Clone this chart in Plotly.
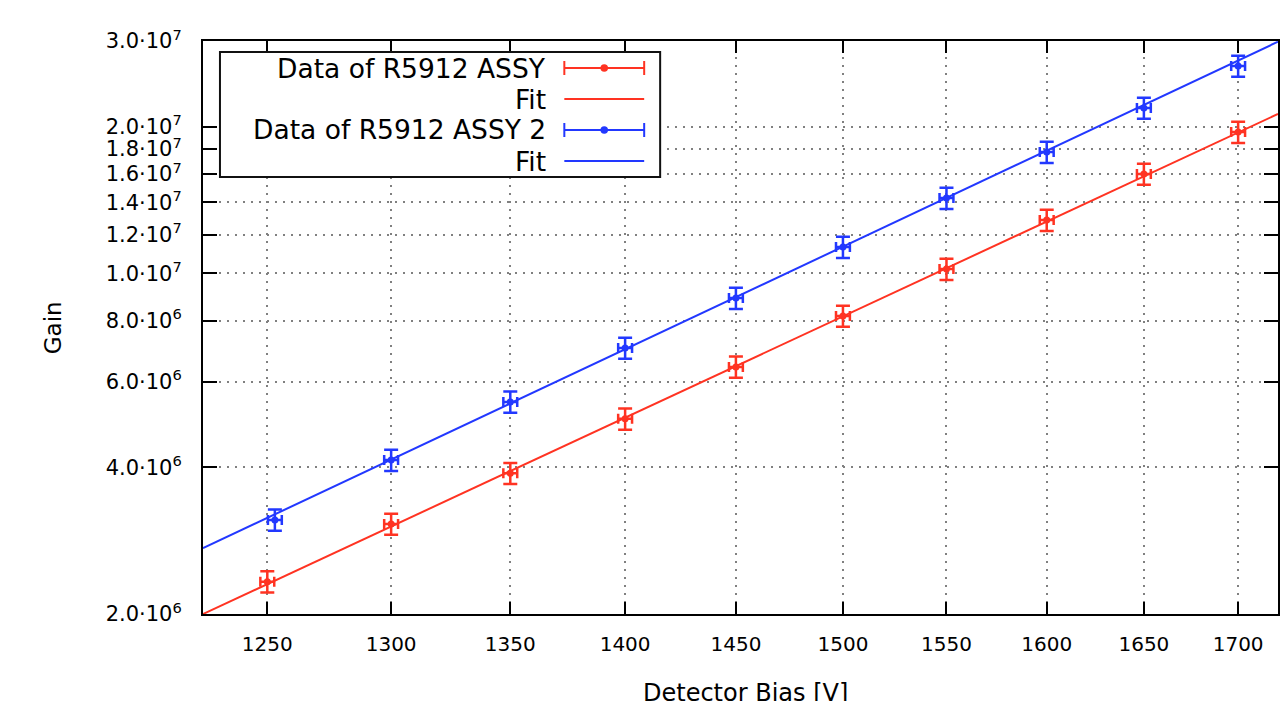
import math
import plotly.graph_objects as go

# ---------------- data ----------------
bias_red = [1250, 1300, 1350, 1400, 1450, 1500, 1550, 1600, 1650, 1700]
gain_red = [2.33e6, 3.06e6, 3.89e6, 5.03e6, 6.43e6, 8.18e6, 1.021e7, 1.287e7, 1.600e7, 1.951e7]

bias_blue = [1253, 1300, 1350, 1400, 1450, 1500, 1550, 1600, 1650, 1700]
gain_blue = [3.12e6, 4.14e6, 5.45e6, 7.03e6, 8.90e6, 1.133e7, 1.428e7, 1.775e7, 2.186e7, 2.666e7]

fit_bias = [1224.8, 1721.6]
fit_red = [2.0e6, 2.125e7]
fit_blue = [2.73e6, 2.99e7]

gain_err_pct = 5.0
bias_err_pct = 0.22

x_ticks = [1250, 1300, 1350, 1400, 1450, 1500, 1550, 1600, 1650, 1700]
x_tick_labels = [str(v) for v in x_ticks]
y_ticks = [2e6, 4e6, 6e6, 8e6, 1e7, 1.2e7, 1.4e7, 1.6e7, 1.8e7, 2e7, 3e7]
y_tick_labels = ["2.0·10<sup>6</sup>", "4.0·10<sup>6</sup>", "6.0·10<sup>6</sup>", "8.0·10<sup>6</sup>",
                 "1.0·10<sup>7</sup>", "1.2·10<sup>7</sup>", "1.4·10<sup>7</sup>", "1.6·10<sup>7</sup>",
                 "1.8·10<sup>7</sup>", "2.0·10<sup>7</sup>", "3.0·10<sup>7</sup>"]

legend_labels = ["Data of R5912 ASSY", "Fit", "Data of R5912 ASSY 2", "Fit"]

RED = "#ff3322"
BLUE = "#2238ff"
FONT = "DejaVu Sans"

# ---------------- geometry ----------------
W, H = 1280, 701
L, R, T, B = 203, 0, 41, 87
PW = W - L - R
PH = H - T - B


def px(x):
    return (x - L) / PW


def py(y):
    return (H - B - y) / PH


fig = go.Figure()

fig.add_trace(go.Scatter(x=fit_bias, y=fit_red, mode="lines",
                         line=dict(color=RED, width=2), showlegend=False, hoverinfo="skip"))
fig.add_trace(go.Scatter(x=fit_bias, y=fit_blue, mode="lines",
                         line=dict(color=BLUE, width=2), showlegend=False, hoverinfo="skip"))

for xs, ys, col in [(bias_red, gain_red, RED), (bias_blue, gain_blue, BLUE)]:
    fig.add_trace(go.Scatter(
        x=xs, y=ys, mode="markers",
        marker=dict(color=col, size=7, symbol="circle"),
        error_y=dict(type="percent", value=gain_err_pct, color=col, thickness=2.5, width=7),
        error_x=dict(type="percent", value=bias_err_pct, color=col, thickness=2.5, width=5),
        showlegend=False))

axis_common = dict(
    showline=True, linecolor="black", linewidth=2, mirror="ticks",
    ticks="inside", tickcolor="black", tickwidth=2,
    showgrid=True, gridcolor="#808080", gridwidth=1.5, griddash="2px,6px",
    zeroline=False,
)

fig.update_xaxes(type="log", range=[math.log10(fit_bias[0]), math.log10(fit_bias[1])],
                 tickvals=x_ticks, ticktext=x_tick_labels, ticklen=12,
                 tickfont=dict(family=FONT, size=20, color="black"),
                 ticklabelstandoff=11, **axis_common)
fig.update_yaxes(type="log", range=[math.log10(2e6), math.log10(3e7)],
                 tickvals=y_ticks, ticktext=y_tick_labels, ticklen=14,
                 tickfont=dict(family=FONT, size=21, color="black"),
                 ticklabelstandoff=15, **axis_common)

shapes = []
annotations = []

# legend box
shapes.append(dict(type="rect", xref="paper", yref="paper",
                   x0=px(220), x1=px(661), y0=py(177), y1=py(52),
                   line=dict(color="#111111", width=2), fillcolor="white", layer="above"))
rows_y = [68, 99, 130, 161]
cols = [RED, RED, BLUE, BLUE]
for i, (lab, yy, col) in enumerate(zip(legend_labels, rows_y, cols)):
    annotations.append(dict(text=lab, xref="paper", yref="paper", x=px(549), y=py(yy),
                            xanchor="right", yanchor="middle", showarrow=False,
                            font=dict(family=FONT, size=26.5, color="black")))
    shapes.append(dict(type="line", xref="paper", yref="paper", x0=px(565), x1=px(645),
                       y0=py(yy), y1=py(yy), line=dict(color=col, width=2), layer="above"))
    if i % 2 == 0:
        for cx in (565, 645):
            shapes.append(dict(type="line", xref="paper", yref="paper", x0=px(cx), x1=px(cx),
                               y0=py(yy - 7), y1=py(yy + 7), line=dict(color=col, width=2), layer="above"))
        shapes.append(dict(type="circle", xref="paper", yref="paper", x0=px(602), x1=px(608),
                           y0=py(yy + 3), y1=py(yy - 3), line=dict(color=col, width=1.5),
                           fillcolor=col, layer="above"))

annotations.append(dict(text="Detector Bias [V]", xref="paper", yref="paper", x=px(747), y=py(693),
                        xanchor="center", yanchor="middle", showarrow=False,
                        font=dict(family=FONT, size=24, color="black")))
annotations.append(dict(text="Gain", xref="paper", yref="paper", x=px(53), y=py(328),
                        xanchor="center", yanchor="middle", showarrow=False, textangle=-90,
                        font=dict(family=FONT, size=23, color="black")))

fig.update_layout(
    width=W, height=H,
    margin=dict(l=L, r=R, t=T, b=B, pad=0),
    plot_bgcolor="white", paper_bgcolor="white",
    shapes=shapes, annotations=annotations,
    showlegend=False,
)

fig.write_html("out.html", config={"displayModeBar": False},
               post_script="document.body.style.margin='0';document.body.style.overflow='hidden';")
